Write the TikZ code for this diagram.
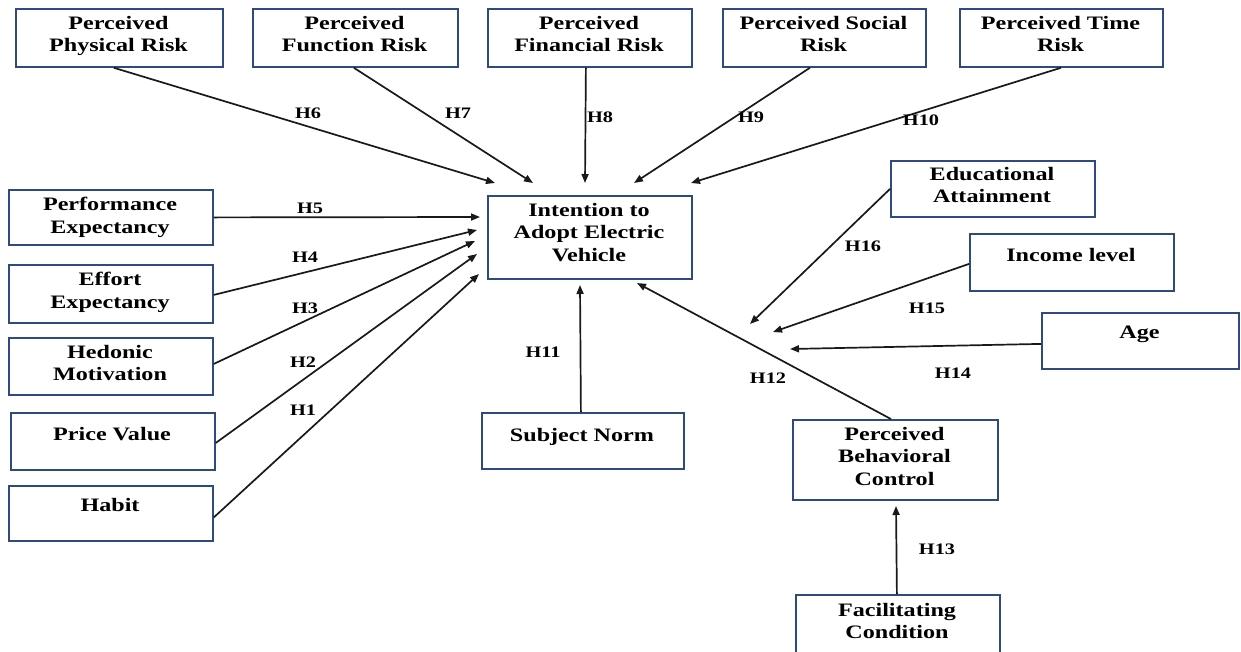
\documentclass[tikz,border=0pt]{standalone}
\usepackage{fontspec}
\setmainfont{Liberation Serif}[FakeStretch=1.27]
\usetikzlibrary{arrows.meta}
\definecolor{boxblue}{HTML}{2E4A7E}
\begin{document}
\begin{tikzpicture}[x=1pt,y=-1pt,
  box/.style={draw=boxblue, line width=1.8pt, inner sep=0pt, anchor=north west},
  txt/.style={font=\bfseries\fontsize{19}{22.5}\selectfont, align=center, anchor=north, inner sep=0pt},
  hl/.style={font=\bfseries\fontsize{16}{18}\selectfont, inner sep=0pt},
  arr/.style={-{Triangle[length=9pt,width=7pt]}, line width=1.7pt, black!90}]
\useasboundingbox (0,0) rectangle (1241,651);
\clip (0,0) rectangle (1241,651);

% top row
\node[box, minimum width=207pt, minimum height=58pt] (phys) at (15,8) {};
\node[txt] (physT) at (118.5,16) {Perceived\\Physical Risk};
\node[box, minimum width=205pt, minimum height=58pt] (func) at (252,8) {};
\node[txt] (funcT) at (354.5,16) {Perceived\\Function Risk};
\node[box, minimum width=204pt, minimum height=58pt] (fin) at (487,8) {};
\node[txt] (finT) at (589,16) {Perceived\\Financial Risk};
\node[box, minimum width=203pt, minimum height=58pt] (soc) at (722,8) {};
\node[txt] (socT) at (823.5,16) {Perceived Social\\Risk};
\node[box, minimum width=203pt, minimum height=58pt] (time) at (959,8) {};
\node[txt] (timeT) at (1060.5,16) {Perceived Time\\Risk};

% left column
\node[box, minimum width=204pt, minimum height=55pt] (perf) at (8,189) {};
\node[txt] (perfT) at (110,197) {Performance\\Expectancy};
\node[box, minimum width=204pt, minimum height=58pt] (eff) at (8,264) {};
\node[txt] (effT) at (110,272) {Effort\\Expectancy};
\node[box, minimum width=204pt, minimum height=57pt] (hed) at (8,337) {};
\node[txt] (hedT) at (110,345) {Hedonic\\Motivation};
\node[box, minimum width=204pt, minimum height=57pt] (price) at (10,412) {};
\node[txt] (priceT) at (112,427) {Price Value};
\node[box, minimum width=204pt, minimum height=55pt] (habit) at (8,485) {};
\node[txt] (habitT) at (110,498) {Habit};

% centre
\node[box, minimum width=204pt, minimum height=83pt] (int) at (487,195) {};
\node[txt] (intT) at (589,203) {Intention to\\Adopt Electric\\Vehicle};
\node[box, minimum width=202pt, minimum height=56pt] (subj) at (481,412) {};
\node[txt] (subjT) at (582,428) {Subject Norm};

% right side
\node[box, minimum width=204pt, minimum height=56pt] (edu) at (890,160) {};
\node[txt] (eduT) at (992,167) {Educational\\Attainment};
\node[box, minimum width=204pt, minimum height=57pt] (inc) at (969,233) {};
\node[txt] (incT) at (1071,248) {Income level};
\node[box, minimum width=197pt, minimum height=56pt] (age) at (1041,312) {};
\node[txt] (ageT) at (1139.5,326) {Age};
\node[box, minimum width=205pt, minimum height=80pt] (pbc) at (792,419) {};
\node[txt] (pbcT) at (894.5,427) {Perceived\\Behavioral\\Control};
\node[box, minimum width=204pt, minimum height=70pt] (fac) at (795,594) {};
\node[txt] (facT) at (897,603) {Facilitating\\Condition};

% arrow end points
\coordinate (t1) at (479,274);
\coordinate (t2) at (477,254);
\coordinate (t3) at (475,241);
\coordinate (t4) at (477,230);
\coordinate (t5) at (480,217);
\coordinate (t6) at (495,183);
\coordinate (t7) at (533,183);
\coordinate (t8) at (585,183);
\coordinate (t9) at (634,183);
\coordinate (t10) at (691,183);
\coordinate (t11) at (580,285);
\coordinate (t12) at (637,283);
\coordinate (t13) at (896,506);
\coordinate (t14) at (790,349);
\coordinate (t15) at (773,332);
\coordinate (t16) at (750,324);

% connectors
\draw[arr] ([yshift=-4pt]habit.east) -- (t1);
\draw[arr] ([yshift=-1.5pt]price.east) -- (t2);
\draw[arr] ([yshift=2.5pt]hed.east) -- (t3);
\draw[arr] ([yshift=-1pt]eff.east) -- (t4);
\draw[arr] (perf.east) -- (t5);
\draw[arr] ([xshift=-5.5pt]phys.south) -- (t6);
\draw[arr] ([xshift=-1.5pt]func.south) -- (t7);
\draw[arr] ([xshift=-4pt]fin.south) -- (t8);
\draw[arr] ([xshift=-14.5pt]soc.south) -- (t9);
\draw[arr] ([xshift=-0.5pt]time.south) -- (t10);
\draw[arr] ([xshift=-2pt]subj.north) -- (t11);
\draw[arr] ([xshift=-4.5pt]pbc.north) -- (t12);
\draw[arr] ([xshift=-1pt]fac.north) -- (t13);
\draw[arr] ([yshift=-3pt]age.west) -- (t14);
\draw[arr] ([yshift=-1.5pt]inc.west) -- (t15);
\draw[arr] (edu.west) -- (t16);

% hypothesis labels
\node[hl] (h1) at (303,410) {H1};
\node[hl] (h2) at (303,362) {H2};
\node[hl] (h3) at (305,308) {H3};
\node[hl] (h4) at (305,257) {H4};
\node[hl] (h5) at (310,208) {H5};
\node[hl] (h6) at (308,113) {H6};
\node[hl] (h7) at (458,113) {H7};
\node[hl] (h8) at (600,117) {H8};
\node[hl] (h9) at (751,117) {H9};
\node[hl] (h10) at (921,120) {H10};
\node[hl] (h11) at (543,352) {H11};
\node[hl] (h12) at (768,378) {H12};
\node[hl] (h13) at (937,549) {H13};
\node[hl] (h14) at (953,373) {H14};
\node[hl] (h15) at (927,308) {H15};
\node[hl] (h16) at (863,246) {H16};
\end{tikzpicture}
\end{document}
